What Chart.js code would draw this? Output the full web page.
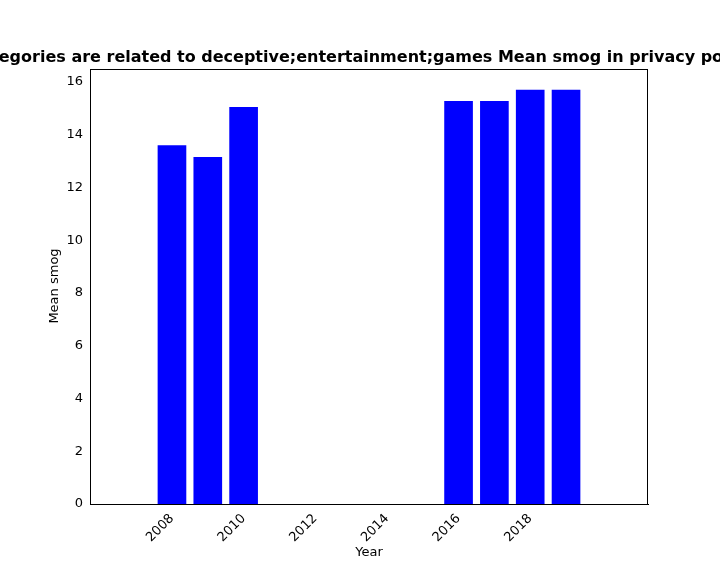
<!DOCTYPE html>
<html><head><script src="https://cdn.jsdelivr.net/npm/chart.js"></script>
<style>body{margin:0;background:#fff}</style></head><body>
<canvas id="c" width="720" height="576"></canvas>
<script>
const years=[2008,2009,2010,2016,2017,2018,2019];
const values=[13.6,13.15,15.05,15.28,15.28,15.7,15.7];
const xTicks=[2008,2010,2012,2014,2016,2018];
const titleText="Categories are related to deceptive;entertainment;games Mean smog in privacy policies";
const F="DejaVu Sans";
const titlePlugin={id:'t',afterDraw(ch){const c=ch.ctx;c.save();c.font="bold 16px "+F;c.fillStyle="#000";c.textAlign="center";c.textBaseline="middle";c.fillText(titleText,369,58);
c.font="13px "+F;c.fillText("Year",369,553);c.translate(55,286);c.rotate(-Math.PI/2);c.fillText("Mean smog",0,0);c.restore();}};
new Chart(document.getElementById('c'),{type:'bar',
data:{datasets:[{data:years.map((y,i)=>({x:y,y:values[i]})),backgroundColor:'#0000ff',barPercentage:0.8,categoryPercentage:1}]},
options:{responsive:false,animation:false,devicePixelRatio:1,
layout:{padding:{top:69,right:72,left:0,bottom:0}},
plugins:{legend:{display:false},tooltip:{enabled:false}},
scales:{
x:{type:'linear',min:2007.01,max:2019.99,afterFit(s){s.height=72;},
afterBuildTicks(s){s.ticks=xTicks.map(v=>({value:v}));},
grid:{display:false,drawTicks:true,tickLength:4,tickColor:'#000'},border:{color:'#000'},
ticks:{autoSkip:false,color:'#000',font:{family:F,size:13},maxRotation:45,minRotation:45,callback:v=>String(v)}},
y:{min:0,max:16.49,afterFit(s){s.width=90;},
afterBuildTicks(s){s.ticks=[0,2,4,6,8,10,12,14,16].map(v=>({value:v}));},
grid:{display:false,tickLength:4,tickColor:'#000'},border:{color:'#000'},
ticks:{autoSkip:false,color:'#000',font:{family:F,size:13}}}}},
plugins:[titlePlugin,{id:'frame',afterDraw(ch){const a=ch.chartArea,c=ch.ctx;c.save();c.strokeStyle='#000';c.lineWidth=1;c.strokeRect(a.left+0.5,a.top+0.5,a.right-a.left-1,a.bottom-a.top);c.restore();}}]
});
</script></body></html>
